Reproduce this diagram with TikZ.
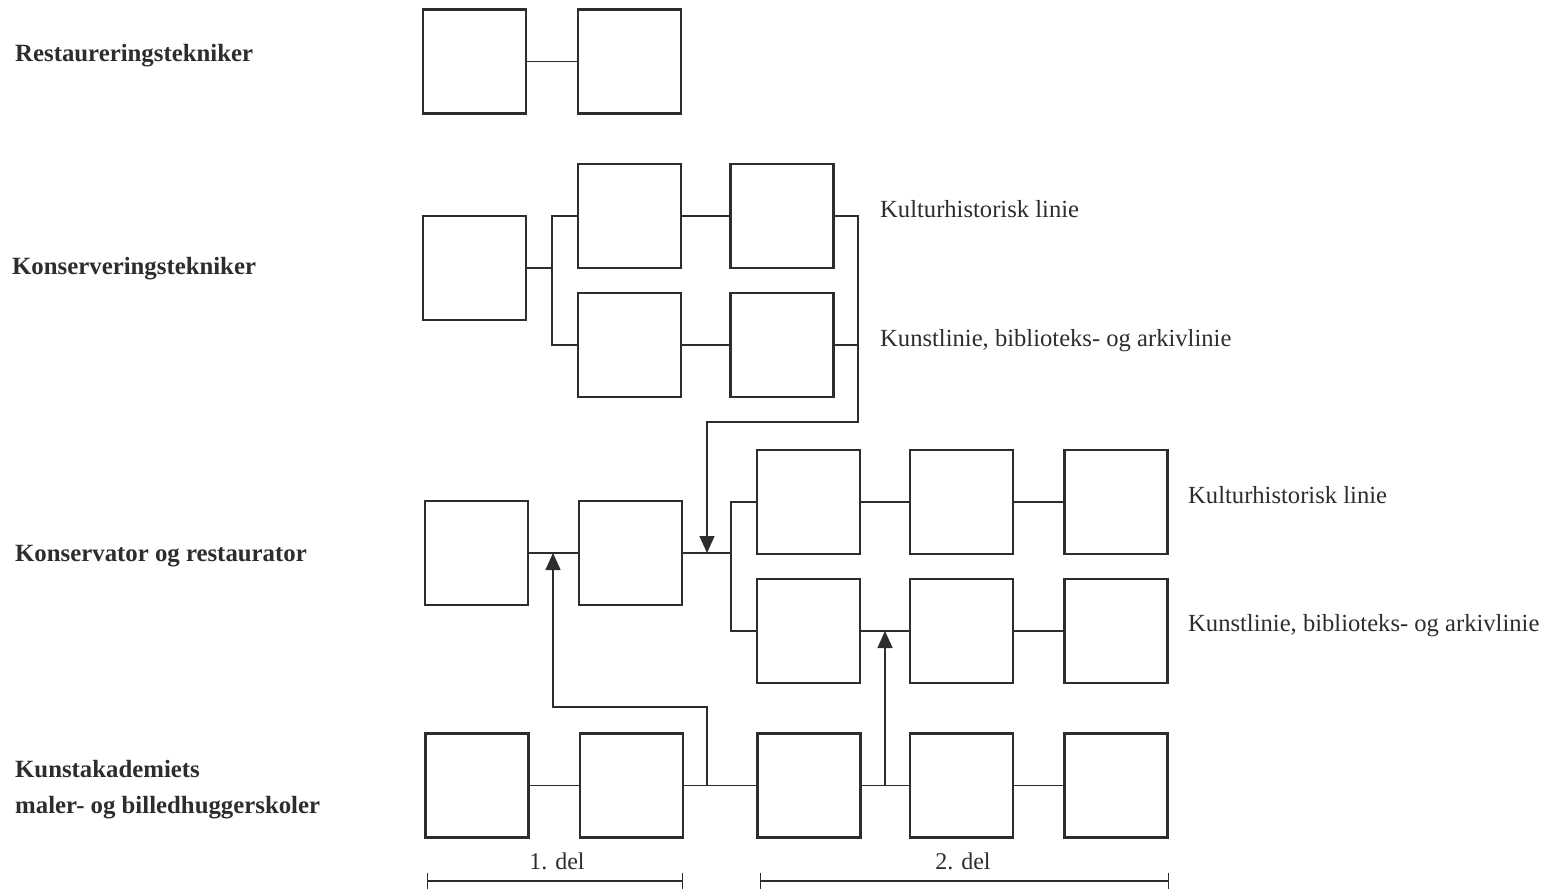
\documentclass[tikz,border=0pt]{standalone}
\usepackage{fontspec}
\setmainfont{Liberation Serif}
\usetikzlibrary{arrows.meta}
\definecolor{ink}{RGB}{45,45,45}
\begin{document}
\begin{tikzpicture}[x=1pt,y=-1pt,
  box/.style={draw=ink,line width=2.2pt,minimum width=103pt,minimum height=104pt,inner sep=0pt},
  conn/.style={draw=ink,line width=1.3pt},
  arr/.style={conn,-{Triangle[width=15pt,length=17pt]}},
  lab/.style={text=ink,anchor=base west,inner sep=0pt,font=\fontsize{24.8}{28}\selectfont\bfseries},
  rlab/.style={text=ink,anchor=base west,inner sep=0pt,font=\fontsize{24.6}{28}\selectfont},
  dlab/.style={text=ink,anchor=base,inner sep=0pt,font=\fontsize{24}{28}\selectfont},
  brk/.style={conn,{Bar[width=16pt]}-{Bar[width=16pt]}}]
\useasboundingbox (0,0) rectangle (1547,889);
% boxes
\node[box] (A1) at (474.5,61.5) {};
\node[box] (A2) at (629.5,61.5) {};
\node[box] (B0) at (474.5,268) {};
\node[box] (B1) at (629.5,216) {};
\node[box] (B2) at (782,216) {};
\node[box] (B3) at (629.5,345) {};
\node[box] (B4) at (782,345) {};
\node[box] (C1) at (476.5,553) {};
\node[box] (C2) at (630.5,553) {};
\node[box] (D1) at (808.5,502) {};
\node[box] (D2) at (961.5,502) {};
\node[box] (D3) at (1116,502) {};
\node[box] (E1) at (808.5,631) {};
\node[box] (E2) at (961.5,631) {};
\node[box] (E3) at (1116,631) {};
\node[box] (F1) at (477,785.5) {};
\node[box] (F2) at (631.5,785.5) {};
\node[box] (F3) at (809,785.5) {};
\node[box] (F4) at (961.5,785.5) {};
\node[box] (F5) at (1116,785.5) {};
% junction coordinates
\coordinate (jB) at (552,268);
\coordinate (k1) at (858,422);
\coordinate (jD) at (731,553);
\coordinate (jC) at (707,553);
\coordinate (m1) at (707,707);
\coordinate (jA) at (553,553);
\coordinate (jF) at (885,785.5);
\coordinate (jE) at (885,631);
% connectors
\draw[conn] (A1.east) -- (A2.west);
\draw[conn] (B0.east) -- (jB);
\draw[conn] (B1.west) -| (jB) |- (B3.west);
\draw[conn] (B1.east) -- (B2.west);
\draw[conn] (B3.east) -- (B4.west);
\draw[conn] (B4.east) -- (B4.east -| k1);
\draw[arr] (B2.east) -| (k1) -| (jC);
\draw[conn] (C1.east) -- (C2.west);
\draw[conn] (C2.east) -- (jD);
\draw[conn] (D1.west) -| (jD) |- (E1.west);
\draw[conn] (D1.east) -- (D2.west);
\draw[conn] (D2.east) -- (D3.west);
\draw[conn] (E1.east) -- (E2.west);
\draw[conn] (E2.east) -- (E3.west);
\draw[conn] (F1.east) -- (F2.west);
\draw[conn] (F2.east) -- (F3.west);
\draw[conn] (F3.east) -- (F4.west);
\draw[conn] (F4.east) -- (F5.west);
\draw[arr] (F2.east) -| (m1) -| (jA);
\draw[arr] (jF) -- (jE);
% labels
\node[lab] (L1) at (15,61) {Restaureringstekniker};
\node[lab] (L2) at (12,274) {Konserveringstekniker};
\node[lab] (L3) at (15,561) {Konservator og restaurator};
\node[lab] (L4) at (15,777) {Kunstakademiets};
\node[lab] (L5) at (15,813) {maler- og billedhuggerskoler};
\node[rlab] (R1) at (880,217) {Kulturhistorisk linie};
\node[rlab] (R2) at (880,346) {Kunstlinie, biblioteks- og arkivlinie};
\node[rlab] (R3) at (1188,503) {Kulturhistorisk linie};
\node[rlab] (R4) at (1188,631) {Kunstlinie, biblioteks- og arkivlinie};
% brackets
\coordinate (b1l) at (427,881);
\coordinate (b1r) at (683,881);
\coordinate (b2l) at (760,881);
\coordinate (b2r) at (1169,881);
\draw[brk] (b1l) -- (b1r);
\draw[brk] (b2l) -- (b2r);
\node[dlab] (d1) at (557,869) {1. del};
\node[dlab] (d2) at (963,869) {2. del};
\end{tikzpicture}
\end{document}
